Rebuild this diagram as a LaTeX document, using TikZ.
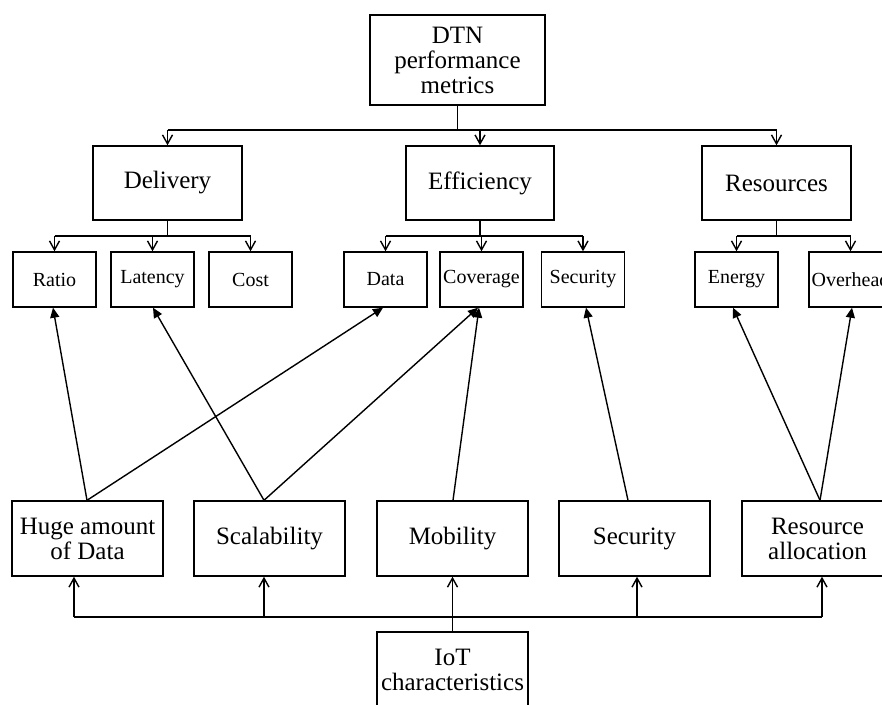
\documentclass[tikz,border=0pt]{standalone}
\usepackage{fontspec}
\setmainfont{Liberation Serif}
\usetikzlibrary{arrows.meta}
\begin{document}
\begin{tikzpicture}[x=1pt,y=-1pt,
  big/.style={draw, line width=1.4pt, align=center, inner sep=1pt, font=\fontsize{25}{25}\selectfont},
  mid/.style={big, minimum width=149pt, minimum height=74pt},
  bot/.style={big, minimum width=151pt, minimum height=75pt},
  leaf/.style={draw, line width=1.4pt, align=center, inner sep=1pt, minimum width=83pt, minimum height=55pt, font=\fontsize{20}{20}\selectfont},
  plain/.style={line width=1.4pt},
  tree/.style={line width=1.4pt, -{Straight Barb[length=9pt,width=10pt]}},
  link/.style={line width=1.4pt, -{Triangle[length=10pt,width=9pt]}}]
\useasboundingbox (0,0) rectangle (882,704);

% top
\node[big, minimum width=175pt, minimum height=90pt] (dtn) at (457.5,60) {DTN\\performance\\metrics};
\node[mid] (del) at (167.5,183) {Delivery};
\node[mid, minimum width=148pt] (eff) at (480,183) {Efficiency};
\node[mid] (res) at (776.5,183) {Resources};

% leaves
\node[leaf] (ratio) at (54.5,279.5) {Ratio};
\node[leaf] (lat) at (152.5,279.5) {Latency};
\node[leaf] (cost) at (250.5,279.5) {Cost};
\node[leaf] (data) at (385.5,279.5) {Data};
\node[leaf] (cov) at (481.5,279.5) {Coverage};
\node[leaf] (secl) at (583,279.5) {Security};
\node[leaf] (ener) at (736.5,279.5) {Energy};
\node[leaf] (over) at (850.5,279.5) {Overhead};

% bottom row
\node[bot] (hug) at (87.5,538.5) {Huge amount\\of Data};
\node[bot] (scal) at (269.5,538.5) {Scalability};
\node[bot] (mob) at (452.5,538.5) {Mobility};
\node[bot] (sec) at (634.5,538.5) {Security};
\node[bot] (ralloc) at (817.5,538.5) {Resource\\allocation};
\node[bot] (iot) at (452.5,669.5) {IoT\\characteristics};

% top tree
\coordinate (tbus) at (457.5,130);
\draw[plain] (dtn.south) -- (tbus);
\draw[plain] (del.north |- tbus) -- (res.north |- tbus);
\draw[tree] (del.north |- tbus) -- (del.north);
\draw[tree] (eff.north |- tbus) -- (eff.north);
\draw[tree] (res.north |- tbus) -- (res.north);

% delivery subtree
\coordinate (dbus) at (167.5,236);
\draw[plain] (del.south) -- (dbus);
\draw[plain] (ratio.north |- dbus) -- (cost.north |- dbus);
\draw[tree] (ratio.north |- dbus) -- (ratio.north);
\draw[tree] (lat.north |- dbus) -- (lat.north);
\draw[tree] (cost.north |- dbus) -- (cost.north);

% efficiency subtree
\coordinate (ebus) at (480,236);
\draw[plain] (eff.south) -- (ebus);
\draw[plain] (data.north |- ebus) -- (secl.north |- ebus);
\draw[tree] (data.north |- ebus) -- (data.north);
\draw[tree] (cov.north |- ebus) -- (cov.north);
\draw[tree] (secl.north |- ebus) -- (secl.north);

% resources subtree
\coordinate (rbus) at (776.5,236);
\draw[plain] (res.south) -- (rbus);
\draw[plain] (ener.north |- rbus) -- (over.north |- rbus);
\draw[tree] (ener.north |- rbus) -- (ener.north);
\draw[tree] (over.north |- rbus) -- (over.north);

% links
\draw[link] ([xshift=-0.5pt]hug.north) -- ([xshift=-1.5pt]ratio.south);
\draw[link] ([xshift=-0.5pt]hug.north) -- ([xshift=-2.5pt]data.south);
\draw[link] ([xshift=-5.5pt]scal.north) -- ([xshift=0.5pt]lat.south);
\draw[link] ([xshift=-5.5pt]scal.north) -- ([xshift=-3.5pt]cov.south);
\draw[link] ([xshift=0.5pt]mob.north) -- ([xshift=-2.5pt]cov.south);
\draw[link] ([xshift=-6.5pt]sec.north) -- ([xshift=3pt]secl.south);
\draw[link] ([xshift=2.5pt]ralloc.north) -- ([xshift=-3.5pt]ener.south);
\draw[link] ([xshift=2.5pt]ralloc.north) -- ([xshift=1.5pt]over.south);

% bottom bus
\coordinate (bh) at (74,617);
\coordinate (bs) at (264,617);
\coordinate (bc) at (637,617);
\coordinate (br) at (822,617);
\draw[plain] (bh) -- (br);
\draw[tree] (iot.north) -- (mob.south);
\draw[tree] (bh) -- (bh |- hug.south);
\draw[tree] (bs) -- (bs |- scal.south);
\draw[tree] (bc) -- (bc |- sec.south);
\draw[tree] (br) -- (br |- ralloc.south);
\end{tikzpicture}
\end{document}
